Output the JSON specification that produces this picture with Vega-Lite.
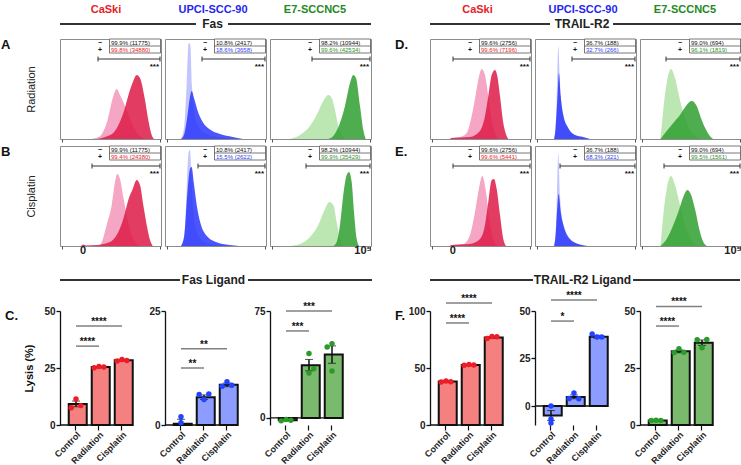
{
"$schema":"https://vega.github.io/schema/vega-lite/v6.json",
"autosize":{"type":"none"},
"padding":{"left":60,"top":2,"right":681,"bottom":463},
"background":"white",
"config":{"font":"Liberation Sans","view":{"stroke":"#8c8c8c","strokeWidth":1}},
"datasets":{
"hist":[
{"p":"FR","c":"CaSki","k":"c","x":31.7,"y":0},{"p":"FR","c":"CaSki","k":"c","x":36,"y":1},{"p":"FR","c":"CaSki","k":"c","x":40,"y":2.7},{"p":"FR","c":"CaSki","k":"c","x":46.7,"y":16},{"p":"FR","c":"CaSki","k":"c","x":53.3,"y":42.7},{"p":"FR","c":"CaSki","k":"c","x":56.7,"y":50},{"p":"FR","c":"CaSki","k":"c","x":60,"y":44},{"p":"FR","c":"CaSki","k":"c","x":66.7,"y":29},{"p":"FR","c":"CaSki","k":"c","x":73.3,"y":12.7},{"p":"FR","c":"CaSki","k":"c","x":80,"y":2.7},{"p":"FR","c":"CaSki","k":"c","x":86.7,"y":0},
{"p":"FR","c":"CaSki","k":"t","x":36.7,"y":0},{"p":"FR","c":"CaSki","k":"t","x":45,"y":2},{"p":"FR","c":"CaSki","k":"t","x":53.3,"y":6},{"p":"FR","c":"CaSki","k":"t","x":63.3,"y":26},{"p":"FR","c":"CaSki","k":"t","x":70,"y":49},{"p":"FR","c":"CaSki","k":"t","x":73.3,"y":58},{"p":"FR","c":"CaSki","k":"t","x":76.7,"y":64},{"p":"FR","c":"CaSki","k":"t","x":80,"y":61},{"p":"FR","c":"CaSki","k":"t","x":85,"y":39},{"p":"FR","c":"CaSki","k":"t","x":88.3,"y":19},{"p":"FR","c":"CaSki","k":"t","x":91.7,"y":4},{"p":"FR","c":"CaSki","k":"t","x":94,"y":0},
{"p":"FR","c":"UPCI","k":"c","x":16,"y":0},{"p":"FR","c":"UPCI","k":"c","x":19.3,"y":13},{"p":"FR","c":"UPCI","k":"c","x":21.7,"y":56},{"p":"FR","c":"UPCI","k":"c","x":23.7,"y":96},{"p":"FR","c":"UPCI","k":"c","x":25.3,"y":94},{"p":"FR","c":"UPCI","k":"c","x":27,"y":53},{"p":"FR","c":"UPCI","k":"c","x":29.3,"y":26},{"p":"FR","c":"UPCI","k":"c","x":34.3,"y":11},{"p":"FR","c":"UPCI","k":"c","x":44.3,"y":4},{"p":"FR","c":"UPCI","k":"c","x":61,"y":1},{"p":"FR","c":"UPCI","k":"c","x":67.7,"y":0},
{"p":"FR","c":"UPCI","k":"t","x":16,"y":0},{"p":"FR","c":"UPCI","k":"t","x":19.3,"y":5},{"p":"FR","c":"UPCI","k":"t","x":22.7,"y":25},{"p":"FR","c":"UPCI","k":"t","x":25,"y":42},{"p":"FR","c":"UPCI","k":"t","x":26.7,"y":48},{"p":"FR","c":"UPCI","k":"t","x":29.3,"y":40},{"p":"FR","c":"UPCI","k":"t","x":32.7,"y":28},{"p":"FR","c":"UPCI","k":"t","x":37.7,"y":17},{"p":"FR","c":"UPCI","k":"t","x":44.3,"y":10},{"p":"FR","c":"UPCI","k":"t","x":55,"y":5},{"p":"FR","c":"UPCI","k":"t","x":67.7,"y":2},{"p":"FR","c":"UPCI","k":"t","x":77.7,"y":0},
{"p":"FR","c":"E7","k":"c","x":20,"y":0},{"p":"FR","c":"E7","k":"c","x":30,"y":4},{"p":"FR","c":"E7","k":"c","x":40,"y":13},{"p":"FR","c":"E7","k":"c","x":46.7,"y":24},{"p":"FR","c":"E7","k":"c","x":53.3,"y":38},{"p":"FR","c":"E7","k":"c","x":58.3,"y":44},{"p":"FR","c":"E7","k":"c","x":61.7,"y":41},{"p":"FR","c":"E7","k":"c","x":65,"y":29},{"p":"FR","c":"E7","k":"c","x":68.3,"y":13},{"p":"FR","c":"E7","k":"c","x":71.7,"y":4},{"p":"FR","c":"E7","k":"c","x":75,"y":0},
{"p":"FR","c":"E7","k":"t","x":58.3,"y":0},{"p":"FR","c":"E7","k":"t","x":63.3,"y":3},{"p":"FR","c":"E7","k":"t","x":70,"y":16},{"p":"FR","c":"E7","k":"t","x":75,"y":33},{"p":"FR","c":"E7","k":"t","x":80,"y":56},{"p":"FR","c":"E7","k":"t","x":83.3,"y":64},{"p":"FR","c":"E7","k":"t","x":86,"y":61},{"p":"FR","c":"E7","k":"t","x":90,"y":33},{"p":"FR","c":"E7","k":"t","x":93.3,"y":9},{"p":"FR","c":"E7","k":"t","x":95.7,"y":0},
{"p":"FC","c":"CaSki","k":"c","x":36.7,"y":0},{"p":"FC","c":"CaSki","k":"c","x":40,"y":1},{"p":"FC","c":"CaSki","k":"c","x":46.7,"y":21},{"p":"FC","c":"CaSki","k":"c","x":51.7,"y":41},{"p":"FC","c":"CaSki","k":"c","x":55,"y":64},{"p":"FC","c":"CaSki","k":"c","x":57.3,"y":72},{"p":"FC","c":"CaSki","k":"c","x":60,"y":67},{"p":"FC","c":"CaSki","k":"c","x":63.3,"y":49},{"p":"FC","c":"CaSki","k":"c","x":66.7,"y":31},{"p":"FC","c":"CaSki","k":"c","x":71.7,"y":11},{"p":"FC","c":"CaSki","k":"c","x":76.7,"y":2},{"p":"FC","c":"CaSki","k":"c","x":80,"y":0},
{"p":"FC","c":"CaSki","k":"t","x":21,"y":0},{"p":"FC","c":"CaSki","k":"t","x":23.3,"y":1.5},{"p":"FC","c":"CaSki","k":"t","x":26,"y":0.5},{"p":"FC","c":"CaSki","k":"t","x":36.7,"y":1},{"p":"FC","c":"CaSki","k":"t","x":50,"y":4},{"p":"FC","c":"CaSki","k":"t","x":56.7,"y":11},{"p":"FC","c":"CaSki","k":"t","x":63.3,"y":27},{"p":"FC","c":"CaSki","k":"t","x":68.3,"y":46},{"p":"FC","c":"CaSki","k":"t","x":72.7,"y":57},{"p":"FC","c":"CaSki","k":"t","x":76.7,"y":66},{"p":"FC","c":"CaSki","k":"t","x":80,"y":61},{"p":"FC","c":"CaSki","k":"t","x":83.3,"y":41},{"p":"FC","c":"CaSki","k":"t","x":86.7,"y":21},{"p":"FC","c":"CaSki","k":"t","x":90,"y":6},{"p":"FC","c":"CaSki","k":"t","x":92.7,"y":0},
{"p":"FC","c":"UPCI","k":"c","x":16,"y":0},{"p":"FC","c":"UPCI","k":"c","x":19.3,"y":7},{"p":"FC","c":"UPCI","k":"c","x":21.7,"y":57},{"p":"FC","c":"UPCI","k":"c","x":23.7,"y":94},{"p":"FC","c":"UPCI","k":"c","x":25,"y":96},{"p":"FC","c":"UPCI","k":"c","x":27,"y":57},{"p":"FC","c":"UPCI","k":"c","x":29.3,"y":24},{"p":"FC","c":"UPCI","k":"c","x":34.3,"y":9},{"p":"FC","c":"UPCI","k":"c","x":44.3,"y":2},{"p":"FC","c":"UPCI","k":"c","x":61,"y":0.5},{"p":"FC","c":"UPCI","k":"c","x":68,"y":0},
{"p":"FC","c":"UPCI","k":"t","x":16,"y":0},{"p":"FC","c":"UPCI","k":"t","x":19.3,"y":11},{"p":"FC","c":"UPCI","k":"t","x":22.7,"y":57},{"p":"FC","c":"UPCI","k":"t","x":25,"y":77},{"p":"FC","c":"UPCI","k":"t","x":26.7,"y":79},{"p":"FC","c":"UPCI","k":"t","x":28.7,"y":64},{"p":"FC","c":"UPCI","k":"t","x":31.7,"y":41},{"p":"FC","c":"UPCI","k":"t","x":36,"y":21},{"p":"FC","c":"UPCI","k":"t","x":41,"y":11},{"p":"FC","c":"UPCI","k":"t","x":51,"y":4},{"p":"FC","c":"UPCI","k":"t","x":64.3,"y":1},{"p":"FC","c":"UPCI","k":"t","x":74.3,"y":0},
{"p":"FC","c":"E7","k":"c","x":20,"y":0},{"p":"FC","c":"E7","k":"c","x":30,"y":2},{"p":"FC","c":"E7","k":"c","x":40,"y":9},{"p":"FC","c":"E7","k":"c","x":48.3,"y":21},{"p":"FC","c":"E7","k":"c","x":55,"y":37},{"p":"FC","c":"E7","k":"c","x":59.3,"y":44},{"p":"FC","c":"E7","k":"c","x":63.3,"y":41},{"p":"FC","c":"E7","k":"c","x":66.7,"y":24},{"p":"FC","c":"E7","k":"c","x":70,"y":7},{"p":"FC","c":"E7","k":"c","x":73.3,"y":0},
{"p":"FC","c":"E7","k":"t","x":63.3,"y":0},{"p":"FC","c":"E7","k":"t","x":66.7,"y":4},{"p":"FC","c":"E7","k":"t","x":70,"y":21},{"p":"FC","c":"E7","k":"t","x":73.3,"y":51},{"p":"FC","c":"E7","k":"t","x":76.7,"y":71},{"p":"FC","c":"E7","k":"t","x":79,"y":74},{"p":"FC","c":"E7","k":"t","x":81.7,"y":64},{"p":"FC","c":"E7","k":"t","x":84,"y":34},{"p":"FC","c":"E7","k":"t","x":86.7,"y":7},{"p":"FC","c":"E7","k":"t","x":89.3,"y":0},
{"p":"TR","c":"CaSki","k":"c","x":20,"y":0},{"p":"TR","c":"CaSki","k":"c","x":21.7,"y":1},{"p":"TR","c":"CaSki","k":"c","x":30,"y":2},{"p":"TR","c":"CaSki","k":"c","x":36.7,"y":6},{"p":"TR","c":"CaSki","k":"c","x":41.7,"y":23},{"p":"TR","c":"CaSki","k":"c","x":46,"y":46},{"p":"TR","c":"CaSki","k":"c","x":49.3,"y":64},{"p":"TR","c":"CaSki","k":"c","x":51.7,"y":70},{"p":"TR","c":"CaSki","k":"c","x":55,"y":64},{"p":"TR","c":"CaSki","k":"c","x":58.3,"y":43},{"p":"TR","c":"CaSki","k":"c","x":61.7,"y":19},{"p":"TR","c":"CaSki","k":"c","x":65,"y":6},{"p":"TR","c":"CaSki","k":"c","x":68.3,"y":0},
{"p":"TR","c":"CaSki","k":"t","x":20,"y":0},{"p":"TR","c":"CaSki","k":"t","x":21.7,"y":1},{"p":"TR","c":"CaSki","k":"t","x":40,"y":2},{"p":"TR","c":"CaSki","k":"t","x":50,"y":8},{"p":"TR","c":"CaSki","k":"t","x":55,"y":23},{"p":"TR","c":"CaSki","k":"t","x":58.3,"y":43},{"p":"TR","c":"CaSki","k":"t","x":61.7,"y":64},{"p":"TR","c":"CaSki","k":"t","x":65,"y":69},{"p":"TR","c":"CaSki","k":"t","x":67.3,"y":63},{"p":"TR","c":"CaSki","k":"t","x":70,"y":43},{"p":"TR","c":"CaSki","k":"t","x":73.3,"y":16},{"p":"TR","c":"CaSki","k":"t","x":76.7,"y":3},{"p":"TR","c":"CaSki","k":"t","x":78.3,"y":0},
{"p":"TR","c":"UPCI","k":"c","x":19,"y":0},{"p":"TR","c":"UPCI","k":"c","x":20.5,"y":10},{"p":"TR","c":"UPCI","k":"c","x":21.7,"y":39},{"p":"TR","c":"UPCI","k":"c","x":23.3,"y":93},{"p":"TR","c":"UPCI","k":"c","x":25,"y":56},{"p":"TR","c":"UPCI","k":"c","x":27.7,"y":26},{"p":"TR","c":"UPCI","k":"c","x":33.3,"y":9},{"p":"TR","c":"UPCI","k":"c","x":41.7,"y":3},{"p":"TR","c":"UPCI","k":"c","x":51.7,"y":0.5},{"p":"TR","c":"UPCI","k":"c","x":55,"y":0},
{"p":"TR","c":"UPCI","k":"t","x":19,"y":0},{"p":"TR","c":"UPCI","k":"t","x":20.5,"y":10},{"p":"TR","c":"UPCI","k":"t","x":22.3,"y":39},{"p":"TR","c":"UPCI","k":"t","x":24,"y":66},{"p":"TR","c":"UPCI","k":"t","x":25.7,"y":43},{"p":"TR","c":"UPCI","k":"t","x":28.3,"y":24},{"p":"TR","c":"UPCI","k":"t","x":33.3,"y":11},{"p":"TR","c":"UPCI","k":"t","x":40,"y":4},{"p":"TR","c":"UPCI","k":"t","x":48.3,"y":2},{"p":"TR","c":"UPCI","k":"t","x":55,"y":0},
{"p":"TR","c":"E7","k":"c","x":20.5,"y":0},{"p":"TR","c":"E7","k":"c","x":23.3,"y":29},{"p":"TR","c":"E7","k":"c","x":26.7,"y":56},{"p":"TR","c":"E7","k":"c","x":31,"y":70},{"p":"TR","c":"E7","k":"c","x":35,"y":61},{"p":"TR","c":"E7","k":"c","x":40,"y":39},{"p":"TR","c":"E7","k":"c","x":45,"y":21},{"p":"TR","c":"E7","k":"c","x":50,"y":9},{"p":"TR","c":"E7","k":"c","x":55,"y":3},{"p":"TR","c":"E7","k":"c","x":60,"y":0},
{"p":"TR","c":"E7","k":"t","x":20.5,"y":0},{"p":"TR","c":"E7","k":"t","x":26.7,"y":8},{"p":"TR","c":"E7","k":"t","x":33.3,"y":16},{"p":"TR","c":"E7","k":"t","x":40,"y":24},{"p":"TR","c":"E7","k":"t","x":46.7,"y":34},{"p":"TR","c":"E7","k":"t","x":51.7,"y":38},{"p":"TR","c":"E7","k":"t","x":56.7,"y":33},{"p":"TR","c":"E7","k":"t","x":61.7,"y":19},{"p":"TR","c":"E7","k":"t","x":66.7,"y":8},{"p":"TR","c":"E7","k":"t","x":71.7,"y":1},{"p":"TR","c":"E7","k":"t","x":73.3,"y":0},
{"p":"TC","c":"CaSki","k":"c","x":20,"y":0},{"p":"TC","c":"CaSki","k":"c","x":21.7,"y":1},{"p":"TC","c":"CaSki","k":"c","x":33.3,"y":2},{"p":"TC","c":"CaSki","k":"c","x":40,"y":11},{"p":"TC","c":"CaSki","k":"c","x":45,"y":34},{"p":"TC","c":"CaSki","k":"c","x":48.3,"y":54},{"p":"TC","c":"CaSki","k":"c","x":52.3,"y":70},{"p":"TC","c":"CaSki","k":"c","x":56,"y":54},{"p":"TC","c":"CaSki","k":"c","x":59.3,"y":27},{"p":"TC","c":"CaSki","k":"c","x":63.3,"y":7},{"p":"TC","c":"CaSki","k":"c","x":66.7,"y":1},{"p":"TC","c":"CaSki","k":"c","x":68.3,"y":0},
{"p":"TC","c":"CaSki","k":"t","x":20,"y":0},{"p":"TC","c":"CaSki","k":"t","x":21.7,"y":1},{"p":"TC","c":"CaSki","k":"t","x":40,"y":2},{"p":"TC","c":"CaSki","k":"t","x":50,"y":7},{"p":"TC","c":"CaSki","k":"t","x":55,"y":21},{"p":"TC","c":"CaSki","k":"t","x":58.3,"y":44},{"p":"TC","c":"CaSki","k":"t","x":61.7,"y":66},{"p":"TC","c":"CaSki","k":"t","x":64,"y":67},{"p":"TC","c":"CaSki","k":"t","x":66.7,"y":57},{"p":"TC","c":"CaSki","k":"t","x":70,"y":31},{"p":"TC","c":"CaSki","k":"t","x":73.3,"y":7},{"p":"TC","c":"CaSki","k":"t","x":76,"y":0},
{"p":"TC","c":"UPCI","k":"c","x":19,"y":0},{"p":"TC","c":"UPCI","k":"c","x":20.5,"y":10},{"p":"TC","c":"UPCI","k":"c","x":21.7,"y":41},{"p":"TC","c":"UPCI","k":"c","x":23.3,"y":93},{"p":"TC","c":"UPCI","k":"c","x":25,"y":51},{"p":"TC","c":"UPCI","k":"c","x":27.7,"y":24},{"p":"TC","c":"UPCI","k":"c","x":33.3,"y":7},{"p":"TC","c":"UPCI","k":"c","x":41.7,"y":2},{"p":"TC","c":"UPCI","k":"c","x":51.7,"y":0},
{"p":"TC","c":"UPCI","k":"t","x":19,"y":0},{"p":"TC","c":"UPCI","k":"t","x":20.5,"y":10},{"p":"TC","c":"UPCI","k":"t","x":22,"y":34},{"p":"TC","c":"UPCI","k":"t","x":23.7,"y":52},{"p":"TC","c":"UPCI","k":"t","x":25.7,"y":34},{"p":"TC","c":"UPCI","k":"t","x":29,"y":19},{"p":"TC","c":"UPCI","k":"t","x":35,"y":7},{"p":"TC","c":"UPCI","k":"t","x":43.3,"y":2},{"p":"TC","c":"UPCI","k":"t","x":53.3,"y":0},
{"p":"TC","c":"E7","k":"c","x":20.5,"y":0},{"p":"TC","c":"E7","k":"c","x":23.3,"y":31},{"p":"TC","c":"E7","k":"c","x":26.7,"y":57},{"p":"TC","c":"E7","k":"c","x":31,"y":70},{"p":"TC","c":"E7","k":"c","x":35,"y":61},{"p":"TC","c":"E7","k":"c","x":40,"y":41},{"p":"TC","c":"E7","k":"c","x":45,"y":21},{"p":"TC","c":"E7","k":"c","x":50,"y":9},{"p":"TC","c":"E7","k":"c","x":55,"y":2},{"p":"TC","c":"E7","k":"c","x":60,"y":0},
{"p":"TC","c":"E7","k":"t","x":20.5,"y":0},{"p":"TC","c":"E7","k":"t","x":26.7,"y":7},{"p":"TC","c":"E7","k":"t","x":33.3,"y":21},{"p":"TC","c":"E7","k":"t","x":38.3,"y":34},{"p":"TC","c":"E7","k":"t","x":43.3,"y":49},{"p":"TC","c":"E7","k":"t","x":47.3,"y":56},{"p":"TC","c":"E7","k":"t","x":50.7,"y":52},{"p":"TC","c":"E7","k":"t","x":55,"y":37},{"p":"TC","c":"E7","k":"t","x":60,"y":14},{"p":"TC","c":"E7","k":"t","x":63.3,"y":4},{"p":"TC","c":"E7","k":"t","x":66.7,"y":0},
{"p":"FR","c":"CaSki","k":"a","ctrl":"99.9% (11775)","trt":"99.8% (34880)","gate":38},
{"p":"FR","c":"UPCI","k":"a","ctrl":"10.8% (2417)","trt":"18.6% (3658)","gate":37},
{"p":"FR","c":"E7","k":"a","ctrl":"98.2% (10944)","trt":"99.6% (42534)","gate":42},
{"p":"FC","c":"CaSki","k":"a","ctrl":"99.9% (11775)","trt":"99.4% (24380)","gate":32},
{"p":"FC","c":"UPCI","k":"a","ctrl":"10.8% (2417)","trt":"15.5% (2622)","gate":33},
{"p":"FC","c":"E7","k":"a","ctrl":"98.2% (10944)","trt":"99.9% (35429)","gate":36},
{"p":"TR","c":"CaSki","k":"a","ctrl":"99.6% (2756)","trt":"99.6% (7196)","gate":23},
{"p":"TR","c":"UPCI","k":"a","ctrl":"36.7% (188)","trt":"32.7% (266)","gate":37},
{"p":"TR","c":"E7","k":"a","ctrl":"99.0% (694)","trt":"96.1% (1819)","gate":26},
{"p":"TC","c":"CaSki","k":"a","ctrl":"99.6% (2756)","trt":"99.6% (5441)","gate":23},
{"p":"TC","c":"UPCI","k":"a","ctrl":"36.7% (188)","trt":"68.3% (321)","gate":25},
{"p":"TC","c":"E7","k":"a","ctrl":"99.0% (694)","trt":"99.5% (1561)","gate":24}
],
"lys":[
{"m":"F","c":"CaSki","k":"b","g":"Control","mean":9.2,"lo":8.0,"hi":10.5},{"m":"F","c":"CaSki","k":"b","g":"Radiation","mean":25.4,"lo":25.2,"hi":25.6},{"m":"F","c":"CaSki","k":"b","g":"Cisplatin","mean":28.4,"lo":28.2,"hi":28.6},
{"m":"F","c":"UPCI","k":"b","g":"Control","mean":0.3,"lo":-0.7,"hi":1.25},{"m":"F","c":"UPCI","k":"b","g":"Radiation","mean":6.1,"lo":5.6,"hi":6.6},{"m":"F","c":"UPCI","k":"b","g":"Cisplatin","mean":8.8,"lo":8.4,"hi":9.2},
{"m":"F","c":"E7","k":"b","g":"Control","mean":-1.6,"lo":-1.9,"hi":-1.3},{"m":"F","c":"E7","k":"b","g":"Radiation","mean":37,"lo":33,"hi":41},{"m":"F","c":"E7","k":"b","g":"Cisplatin","mean":44.5,"lo":38.3,"hi":50.5},
{"m":"T","c":"CaSki","k":"b","g":"Control","mean":38.1,"lo":37.8,"hi":38.4},{"m":"T","c":"CaSki","k":"b","g":"Radiation","mean":52.7,"lo":52.5,"hi":52.9},{"m":"T","c":"CaSki","k":"b","g":"Cisplatin","mean":76.8,"lo":76.2,"hi":77.4},
{"m":"T","c":"UPCI","k":"b","g":"Control","mean":-5.0,"lo":-7.6,"hi":-2.4},{"m":"T","c":"UPCI","k":"b","g":"Radiation","mean":4.8,"lo":3.8,"hi":5.8},{"m":"T","c":"UPCI","k":"b","g":"Cisplatin","mean":36.5,"lo":35.8,"hi":37.2},
{"m":"T","c":"E7","k":"b","g":"Control","mean":2.0,"lo":1.9,"hi":2.1},{"m":"T","c":"E7","k":"b","g":"Radiation","mean":32.3,"lo":31.7,"hi":32.9},{"m":"T","c":"E7","k":"b","g":"Cisplatin","mean":36.1,"lo":34.9,"hi":37.3},
{"m":"F","c":"CaSki","k":"p","g":"Control","r":1,"v":7.6},{"m":"F","c":"CaSki","k":"p","g":"Control","r":2,"v":11.4},{"m":"F","c":"CaSki","k":"p","g":"Control","r":3,"v":8.5},
{"m":"F","c":"CaSki","k":"p","g":"Radiation","r":1,"v":25.1},{"m":"F","c":"CaSki","k":"p","g":"Radiation","r":2,"v":25.7},{"m":"F","c":"CaSki","k":"p","g":"Radiation","r":3,"v":25.4},
{"m":"F","c":"CaSki","k":"p","g":"Cisplatin","r":1,"v":28.1},{"m":"F","c":"CaSki","k":"p","g":"Cisplatin","r":2,"v":28.7},{"m":"F","c":"CaSki","k":"p","g":"Cisplatin","r":3,"v":28.3},
{"m":"F","c":"UPCI","k":"p","g":"Control","r":2,"v":1.8},{"m":"F","c":"UPCI","k":"p","g":"Control","r":2,"v":0.5},
{"m":"F","c":"UPCI","k":"p","g":"Radiation","r":1,"v":6.7},{"m":"F","c":"UPCI","k":"p","g":"Radiation","r":2,"v":5.6},{"m":"F","c":"UPCI","k":"p","g":"Radiation","r":3,"v":6.8},
{"m":"F","c":"UPCI","k":"p","g":"Cisplatin","r":1,"v":8.5},{"m":"F","c":"UPCI","k":"p","g":"Cisplatin","r":2,"v":9.5},{"m":"F","c":"UPCI","k":"p","g":"Cisplatin","r":3,"v":8.7},
{"m":"F","c":"E7","k":"p","g":"Control","r":1,"v":-2.1},{"m":"F","c":"E7","k":"p","g":"Control","r":2,"v":-1.2},{"m":"F","c":"E7","k":"p","g":"Control","r":3,"v":-1.6},
{"m":"F","c":"E7","k":"p","g":"Radiation","r":2,"v":45.1},{"m":"F","c":"E7","k":"p","g":"Radiation","r":3,"v":34.5},{"m":"F","c":"E7","k":"p","g":"Radiation","r":2,"v":31.5},
{"m":"F","c":"E7","k":"p","g":"Cisplatin","r":2,"v":52.1},{"m":"F","c":"E7","k":"p","g":"Cisplatin","r":1,"v":49.8},{"m":"F","c":"E7","k":"p","g":"Cisplatin","r":2,"v":32.9},
{"m":"T","c":"CaSki","k":"p","g":"Control","r":1,"v":37.8},{"m":"T","c":"CaSki","k":"p","g":"Control","r":2,"v":38.5},{"m":"T","c":"CaSki","k":"p","g":"Control","r":3,"v":38.0},
{"m":"T","c":"CaSki","k":"p","g":"Radiation","r":1,"v":52.5},{"m":"T","c":"CaSki","k":"p","g":"Radiation","r":2,"v":53.0},{"m":"T","c":"CaSki","k":"p","g":"Radiation","r":3,"v":52.6},
{"m":"T","c":"CaSki","k":"p","g":"Cisplatin","r":1,"v":75.8},{"m":"T","c":"CaSki","k":"p","g":"Cisplatin","r":2,"v":77.6},{"m":"T","c":"CaSki","k":"p","g":"Cisplatin","r":3,"v":77.5},
{"m":"T","c":"UPCI","k":"p","g":"Control","r":2,"v":0},{"m":"T","c":"UPCI","k":"p","g":"Control","r":2,"v":-6.8},{"m":"T","c":"UPCI","k":"p","g":"Control","r":2,"v":-9.0},
{"m":"T","c":"UPCI","k":"p","g":"Radiation","r":2,"v":6.8},{"m":"T","c":"UPCI","k":"p","g":"Radiation","r":1,"v":3.9},{"m":"T","c":"UPCI","k":"p","g":"Radiation","r":3,"v":3.8},
{"m":"T","c":"UPCI","k":"p","g":"Cisplatin","r":1,"v":37.9},{"m":"T","c":"UPCI","k":"p","g":"Cisplatin","r":2,"v":36.3},{"m":"T","c":"UPCI","k":"p","g":"Cisplatin","r":3,"v":36.3},
{"m":"T","c":"E7","k":"p","g":"Control","r":1,"v":2.0},{"m":"T","c":"E7","k":"p","g":"Control","r":2,"v":2.1},{"m":"T","c":"E7","k":"p","g":"Control","r":3,"v":2.0},
{"m":"T","c":"E7","k":"p","g":"Radiation","r":1,"v":31.8},{"m":"T","c":"E7","k":"p","g":"Radiation","r":2,"v":33.5},{"m":"T","c":"E7","k":"p","g":"Radiation","r":3,"v":31.9},
{"m":"T","c":"E7","k":"p","g":"Cisplatin","r":1,"v":37.4},{"m":"T","c":"E7","k":"p","g":"Cisplatin","r":2,"v":33.9},{"m":"T","c":"E7","k":"p","g":"Cisplatin","r":3,"v":37.5},
{"m":"F","c":"CaSki","k":"s","g1":"Control","g2":"Cisplatin","y":43.4,"lab":"****"},{"m":"F","c":"CaSki","k":"s","g1":"Control","g2":"Radiation","y":34.6,"lab":"****"},
{"m":"F","c":"UPCI","k":"s","g1":"Control","g2":"Cisplatin","y":16.7,"lab":"**"},{"m":"F","c":"UPCI","k":"s","g1":"Control","g2":"Radiation","y":12.5,"lab":"**"},
{"m":"F","c":"E7","k":"s","g1":"Control","g2":"Cisplatin","y":75,"lab":"***"},{"m":"F","c":"E7","k":"s","g1":"Control","g2":"Radiation","y":61,"lab":"***"},
{"m":"T","c":"CaSki","k":"s","g1":"Control","g2":"Cisplatin","y":107,"lab":"****"},{"m":"T","c":"CaSki","k":"s","g1":"Control","g2":"Radiation","y":89.5,"lab":"****"},
{"m":"T","c":"UPCI","k":"s","g1":"Control","g2":"Cisplatin","y":55.8,"lab":"****"},{"m":"T","c":"UPCI","k":"s","g1":"Control","g2":"Radiation","y":44.7,"lab":"*"},
{"m":"T","c":"E7","k":"s","g1":"Control","g2":"Cisplatin","y":52,"lab":"****"},{"m":"T","c":"E7","k":"s","g1":"Control","g2":"Radiation","y":43.4,"lab":"****"}
]
},
"columns":7,"align":"each","bounds":"flush","spacing":{"row":7,"column":4},
"concat":[
{"width":101,"height":30,"view":{"stroke":null},"data":{"values":[{}]},"mark":{"type":"text","fontSize":11,"fontWeight":"bold","color":"#e41e26"},"encoding":{"x":{"datum":46,"type":"quantitative","scale":{"domain":[0,101],"nice":false},"axis":null},"y":{"datum":0.73,"type":"quantitative","scale":{"domain":[0,1],"nice":false},"axis":null},"text":{"value":"CaSki"}}},
{"width":101,"height":30,"view":{"stroke":null},"data":{"values":[{}]},
 "layer":[
  {"mark":{"type":"text","fontSize":11,"fontWeight":"bold","color":"#2626ee"},"encoding":{"x":{"datum":48,"type":"quantitative","scale":{"domain":[0,101],"nice":false},"axis":null},"y":{"datum":0.73,"type":"quantitative","scale":{"domain":[0,1],"nice":false},"axis":null},"text":{"value":"UPCI-SCC-90"}}},
  {"mark":{"type":"rule","color":"#333","strokeWidth":2},"encoding":{"x":{"datum":-105,"type":"quantitative","scale":{"domain":[0,101],"nice":false},"axis":null},"x2":{"datum":31},"y":{"datum":0.267,"type":"quantitative","scale":{"domain":[0,1],"nice":false},"axis":null}}},
  {"mark":{"type":"rule","color":"#333","strokeWidth":2},"encoding":{"x":{"datum":63,"type":"quantitative","scale":{"domain":[0,101],"nice":false},"axis":null},"x2":{"datum":206},"y":{"datum":0.267,"type":"quantitative","scale":{"domain":[0,1],"nice":false},"axis":null}}},
  {"mark":{"type":"text","fontSize":12,"fontWeight":"bold","color":"#222"},"encoding":{"x":{"datum":47.5,"type":"quantitative","scale":{"domain":[0,101],"nice":false},"axis":null},"y":{"datum":0.267,"type":"quantitative","scale":{"domain":[0,1],"nice":false},"axis":null},"text":{"value":"Fas"}}}
 ]},
{"width":101,"height":30,"view":{"stroke":null},"data":{"values":[{}]},"mark":{"type":"text","fontSize":11,"fontWeight":"bold","color":"#238a23"},"encoding":{"x":{"datum":45,"type":"quantitative","scale":{"domain":[0,101],"nice":false},"axis":null},"y":{"datum":0.73,"type":"quantitative","scale":{"domain":[0,1],"nice":false},"axis":null},"text":{"value":"E7-SCCNC5"}}},
{"width":51,"height":1,"view":{"stroke":null},"data":{"values":[]},"mark":"point"},
{"width":101,"height":30,"view":{"stroke":null},"data":{"values":[{}]},"mark":{"type":"text","fontSize":11,"fontWeight":"bold","color":"#e41e26"},"encoding":{"x":{"datum":47.5,"type":"quantitative","scale":{"domain":[0,101],"nice":false},"axis":null},"y":{"datum":0.73,"type":"quantitative","scale":{"domain":[0,1],"nice":false},"axis":null},"text":{"value":"CaSki"}}},
{"width":101,"height":30,"view":{"stroke":null},"data":{"values":[{}]},
 "layer":[
  {"mark":{"type":"text","fontSize":11,"fontWeight":"bold","color":"#2626ee"},"encoding":{"x":{"datum":48,"type":"quantitative","scale":{"domain":[0,101],"nice":false},"axis":null},"y":{"datum":0.73,"type":"quantitative","scale":{"domain":[0,1],"nice":false},"axis":null},"text":{"value":"UPCI-SCC-90"}}},
  {"mark":{"type":"rule","color":"#333","strokeWidth":2},"encoding":{"x":{"datum":-105,"type":"quantitative","scale":{"domain":[0,101],"nice":false},"axis":null},"x2":{"datum":15},"y":{"datum":0.267,"type":"quantitative","scale":{"domain":[0,1],"nice":false},"axis":null}}},
  {"mark":{"type":"rule","color":"#333","strokeWidth":2},"encoding":{"x":{"datum":78,"type":"quantitative","scale":{"domain":[0,101],"nice":false},"axis":null},"x2":{"datum":206},"y":{"datum":0.267,"type":"quantitative","scale":{"domain":[0,1],"nice":false},"axis":null}}},
  {"mark":{"type":"text","fontSize":12,"fontWeight":"bold","color":"#222"},"encoding":{"x":{"datum":47,"type":"quantitative","scale":{"domain":[0,101],"nice":false},"axis":null},"y":{"datum":0.267,"type":"quantitative","scale":{"domain":[0,1],"nice":false},"axis":null},"text":{"value":"TRAIL-R2"}}}
 ]},
{"width":101,"height":30,"view":{"stroke":null},"data":{"values":[{}]},"mark":{"type":"text","fontSize":11,"fontWeight":"bold","color":"#238a23"},"encoding":{"x":{"datum":45,"type":"quantitative","scale":{"domain":[0,101],"nice":false},"axis":null},"y":{"datum":0.73,"type":"quantitative","scale":{"domain":[0,1],"nice":false},"axis":null},"text":{"value":"E7-SCCNC5"}}},

{"width":101,"height":100,"data":{"name":"hist"},"transform":[{"filter":"datum.p==='FR'&&datum.c==='CaSki'"}],
 "title":{"text":"A","orient":"top","anchor":"start","frame":"group","baseline":"top","align":"left","dx":-59,"offset":-13,"fontSize":13,"fontWeight":"bold","color":"#111"},
 "layer":[
  {"transform":[{"filter":"datum.k==='c'"}],"mark":{"type":"area","interpolate":"monotone","color":"#f5a6c4"},"encoding":{"x":{"field":"x","type":"quantitative","scale":{"domain":[0,101],"nice":false},"axis":{"values":[2,6,10,14,18,23,27,31,35,39,45,52,56.5,59.5,62,64,65.5,67,68,69,76,80.5,83.5,86,88,89.5,91,92,93,100],"labels":false,"domain":false,"tickSize":3,"tickColor":"#555","grid":false,"title":null}},"y":{"field":"y","type":"quantitative","stack":null,"scale":{"domain":[0,100],"nice":false},"axis":{"labels":false,"ticks":false,"domain":false,"grid":false,"title":"Radiation","minExtent":0,"titlePadding":24,"titleFontSize":11,"titleFontWeight":"normal","titleColor":"#222"}}}},
  {"transform":[{"filter":"datum.k==='t'"}],"mark":{"type":"area","interpolate":"monotone","color":"#dd1a47","opacity":0.85},"encoding":{"x":{"field":"x","type":"quantitative"},"y":{"field":"y","type":"quantitative","stack":null}}},
  {"transform":[{"filter":"datum.k==='a'"}],"layer":[
   {"mark":{"type":"rect","fill":"white","stroke":"#555","strokeWidth":0.8},"encoding":{"x":{"datum":49.5},"x2":{"datum":100.5},"y":{"datum":86},"y2":{"datum":100}}},
   {"mark":{"type":"rule","color":"#555","strokeWidth":0.8},"encoding":{"x":{"datum":49.5},"x2":{"datum":100.5},"y":{"datum":93}}},
   {"mark":{"type":"text","fontSize":6,"align":"left","color":"#111"},"encoding":{"x":{"datum":51},"y":{"datum":96.5},"text":{"field":"ctrl"}}},
   {"mark":{"type":"text","fontSize":6,"align":"left","color":"#ee2222"},"encoding":{"x":{"datum":51},"y":{"datum":89.5},"text":{"field":"trt"}}},
   {"mark":{"type":"text","fontSize":7,"fontWeight":"bold","color":"#111"},"encoding":{"x":{"datum":40},"y":{"datum":96.5},"text":{"value":"−"}}},
   {"mark":{"type":"text","fontSize":7,"fontWeight":"bold","color":"#111"},"encoding":{"x":{"datum":40},"y":{"datum":89.5},"text":{"value":"+"}}},
   {"mark":{"type":"rule","color":"#333","strokeWidth":1},"encoding":{"x":{"field":"gate","type":"quantitative"},"x2":{"datum":100},"y":{"datum":80}}},
   {"mark":{"type":"rule","color":"#333","strokeWidth":1},"encoding":{"x":{"field":"gate","type":"quantitative"},"y":{"datum":77.5},"y2":{"datum":82.5}}},
   {"mark":{"type":"rule","color":"#333","strokeWidth":1},"encoding":{"x":{"datum":100},"y":{"datum":77.5},"y2":{"datum":82.5}}},
   {"mark":{"type":"text","fontSize":8,"fontWeight":"bold","align":"right","color":"#111"},"encoding":{"x":{"datum":99},"y":{"datum":72},"text":{"value":"***"}}}
  ]}
 ]},
{"width":101,"height":100,"data":{"name":"hist"},"transform":[{"filter":"datum.p==='FR'&&datum.c==='UPCI'"}],
 "layer":[
  {"transform":[{"filter":"datum.k==='c'"}],"mark":{"type":"area","interpolate":"monotone","color":"#c3c6fd"},"encoding":{"x":{"field":"x","type":"quantitative","scale":{"domain":[0,101],"nice":false},"axis":{"values":[2,6,10,14,18,23,27,31,35,39,45,52,56.5,59.5,62,64,65.5,67,68,69,76,80.5,83.5,86,88,89.5,91,92,93,100],"labels":false,"domain":false,"tickSize":3,"tickColor":"#555","grid":false,"title":null}},"y":{"field":"y","type":"quantitative","stack":null,"scale":{"domain":[0,100],"nice":false},"axis":{"labels":false,"ticks":false,"domain":false,"grid":false,"title":null}}}},
  {"transform":[{"filter":"datum.k==='t'"}],"mark":{"type":"area","interpolate":"monotone","color":"#2a37fb","opacity":0.85},"encoding":{"x":{"field":"x","type":"quantitative"},"y":{"field":"y","type":"quantitative","stack":null}}},
  {"transform":[{"filter":"datum.k==='a'"}],"layer":[
   {"mark":{"type":"rect","fill":"white","stroke":"#555","strokeWidth":0.8},"encoding":{"x":{"datum":49.5},"x2":{"datum":100.5},"y":{"datum":86},"y2":{"datum":100}}},
   {"mark":{"type":"rule","color":"#555","strokeWidth":0.8},"encoding":{"x":{"datum":49.5},"x2":{"datum":100.5},"y":{"datum":93}}},
   {"mark":{"type":"text","fontSize":6,"align":"left","color":"#111"},"encoding":{"x":{"datum":51},"y":{"datum":96.5},"text":{"field":"ctrl"}}},
   {"mark":{"type":"text","fontSize":6,"align":"left","color":"#3040ff"},"encoding":{"x":{"datum":51},"y":{"datum":89.5},"text":{"field":"trt"}}},
   {"mark":{"type":"text","fontSize":7,"fontWeight":"bold","color":"#111"},"encoding":{"x":{"datum":40},"y":{"datum":96.5},"text":{"value":"−"}}},
   {"mark":{"type":"text","fontSize":7,"fontWeight":"bold","color":"#111"},"encoding":{"x":{"datum":40},"y":{"datum":89.5},"text":{"value":"+"}}},
   {"mark":{"type":"rule","color":"#333","strokeWidth":1},"encoding":{"x":{"field":"gate","type":"quantitative"},"x2":{"datum":100},"y":{"datum":80}}},
   {"mark":{"type":"rule","color":"#333","strokeWidth":1},"encoding":{"x":{"field":"gate","type":"quantitative"},"y":{"datum":77.5},"y2":{"datum":82.5}}},
   {"mark":{"type":"rule","color":"#333","strokeWidth":1},"encoding":{"x":{"datum":100},"y":{"datum":77.5},"y2":{"datum":82.5}}},
   {"mark":{"type":"text","fontSize":8,"fontWeight":"bold","align":"right","color":"#111"},"encoding":{"x":{"datum":99},"y":{"datum":72},"text":{"value":"***"}}}
  ]}
 ]},
{"width":101,"height":100,"data":{"name":"hist"},"transform":[{"filter":"datum.p==='FR'&&datum.c==='E7'"}],
 "layer":[
  {"transform":[{"filter":"datum.k==='c'"}],"mark":{"type":"area","interpolate":"monotone","color":"#bce6b2"},"encoding":{"x":{"field":"x","type":"quantitative","scale":{"domain":[0,101],"nice":false},"axis":{"values":[2,6,10,14,18,23,27,31,35,39,45,52,56.5,59.5,62,64,65.5,67,68,69,76,80.5,83.5,86,88,89.5,91,92,93,100],"labels":false,"domain":false,"tickSize":3,"tickColor":"#555","grid":false,"title":null}},"y":{"field":"y","type":"quantitative","stack":null,"scale":{"domain":[0,100],"nice":false},"axis":{"labels":false,"ticks":false,"domain":false,"grid":false,"title":null}}}},
  {"transform":[{"filter":"datum.k==='t'"}],"mark":{"type":"area","interpolate":"monotone","color":"#2f9f2f","opacity":0.85},"encoding":{"x":{"field":"x","type":"quantitative"},"y":{"field":"y","type":"quantitative","stack":null}}},
  {"transform":[{"filter":"datum.k==='a'"}],"layer":[
   {"mark":{"type":"rect","fill":"white","stroke":"#555","strokeWidth":0.8},"encoding":{"x":{"datum":49.5},"x2":{"datum":100.5},"y":{"datum":86},"y2":{"datum":100}}},
   {"mark":{"type":"rule","color":"#555","strokeWidth":0.8},"encoding":{"x":{"datum":49.5},"x2":{"datum":100.5},"y":{"datum":93}}},
   {"mark":{"type":"text","fontSize":6,"align":"left","color":"#111"},"encoding":{"x":{"datum":51},"y":{"datum":96.5},"text":{"field":"ctrl"}}},
   {"mark":{"type":"text","fontSize":6,"align":"left","color":"#2a962a"},"encoding":{"x":{"datum":51},"y":{"datum":89.5},"text":{"field":"trt"}}},
   {"mark":{"type":"text","fontSize":7,"fontWeight":"bold","color":"#111"},"encoding":{"x":{"datum":40},"y":{"datum":96.5},"text":{"value":"−"}}},
   {"mark":{"type":"text","fontSize":7,"fontWeight":"bold","color":"#111"},"encoding":{"x":{"datum":40},"y":{"datum":89.5},"text":{"value":"+"}}},
   {"mark":{"type":"rule","color":"#333","strokeWidth":1},"encoding":{"x":{"field":"gate","type":"quantitative"},"x2":{"datum":100},"y":{"datum":80}}},
   {"mark":{"type":"rule","color":"#333","strokeWidth":1},"encoding":{"x":{"field":"gate","type":"quantitative"},"y":{"datum":77.5},"y2":{"datum":82.5}}},
   {"mark":{"type":"rule","color":"#333","strokeWidth":1},"encoding":{"x":{"datum":100},"y":{"datum":77.5},"y2":{"datum":82.5}}},
   {"mark":{"type":"text","fontSize":8,"fontWeight":"bold","align":"right","color":"#111"},"encoding":{"x":{"datum":99},"y":{"datum":72},"text":{"value":"***"}}}
  ]}
 ]},
{"width":51,"height":1,"view":{"stroke":null},"data":{"values":[]},"mark":"point"},
{"width":101,"height":100,"data":{"name":"hist"},"transform":[{"filter":"datum.p==='TR'&&datum.c==='CaSki'"}],
 "title":{"text":"D.","orient":"top","anchor":"start","frame":"group","baseline":"top","align":"left","dx":-35,"offset":-13,"fontSize":13,"fontWeight":"bold","color":"#111"},
 "layer":[
  {"transform":[{"filter":"datum.k==='c'"}],"mark":{"type":"area","interpolate":"monotone","color":"#f5a6c4"},"encoding":{"x":{"field":"x","type":"quantitative","scale":{"domain":[0,101],"nice":false},"axis":{"values":[2,6,10,14,18,23,27,31,35,39,45,52,56.5,59.5,62,64,65.5,67,68,69,76,80.5,83.5,86,88,89.5,91,92,93,100],"labels":false,"domain":false,"tickSize":3,"tickColor":"#555","grid":false,"title":null}},"y":{"field":"y","type":"quantitative","stack":null,"scale":{"domain":[0,100],"nice":false},"axis":{"labels":false,"ticks":false,"domain":false,"grid":false,"title":null}}}},
  {"transform":[{"filter":"datum.k==='t'"}],"mark":{"type":"area","interpolate":"monotone","color":"#dd1a47","opacity":0.85},"encoding":{"x":{"field":"x","type":"quantitative"},"y":{"field":"y","type":"quantitative","stack":null}}},
  {"transform":[{"filter":"datum.k==='a'"}],"layer":[
   {"mark":{"type":"rect","fill":"white","stroke":"#555","strokeWidth":0.8},"encoding":{"x":{"datum":49.5},"x2":{"datum":100.5},"y":{"datum":86},"y2":{"datum":100}}},
   {"mark":{"type":"rule","color":"#555","strokeWidth":0.8},"encoding":{"x":{"datum":49.5},"x2":{"datum":100.5},"y":{"datum":93}}},
   {"mark":{"type":"text","fontSize":6,"align":"left","color":"#111"},"encoding":{"x":{"datum":51},"y":{"datum":96.5},"text":{"field":"ctrl"}}},
   {"mark":{"type":"text","fontSize":6,"align":"left","color":"#ee2222"},"encoding":{"x":{"datum":51},"y":{"datum":89.5},"text":{"field":"trt"}}},
   {"mark":{"type":"text","fontSize":7,"fontWeight":"bold","color":"#111"},"encoding":{"x":{"datum":40},"y":{"datum":96.5},"text":{"value":"−"}}},
   {"mark":{"type":"text","fontSize":7,"fontWeight":"bold","color":"#111"},"encoding":{"x":{"datum":40},"y":{"datum":89.5},"text":{"value":"+"}}},
   {"mark":{"type":"rule","color":"#333","strokeWidth":1},"encoding":{"x":{"field":"gate","type":"quantitative"},"x2":{"datum":100},"y":{"datum":80}}},
   {"mark":{"type":"rule","color":"#333","strokeWidth":1},"encoding":{"x":{"field":"gate","type":"quantitative"},"y":{"datum":77.5},"y2":{"datum":82.5}}},
   {"mark":{"type":"rule","color":"#333","strokeWidth":1},"encoding":{"x":{"datum":100},"y":{"datum":77.5},"y2":{"datum":82.5}}},
   {"mark":{"type":"text","fontSize":8,"fontWeight":"bold","align":"right","color":"#111"},"encoding":{"x":{"datum":99},"y":{"datum":72},"text":{"value":"***"}}}
  ]}
 ]},
{"width":101,"height":100,"data":{"name":"hist"},"transform":[{"filter":"datum.p==='TR'&&datum.c==='UPCI'"}],
 "layer":[
  {"transform":[{"filter":"datum.k==='c'"}],"mark":{"type":"area","interpolate":"monotone","color":"#c3c6fd"},"encoding":{"x":{"field":"x","type":"quantitative","scale":{"domain":[0,101],"nice":false},"axis":{"values":[2,6,10,14,18,23,27,31,35,39,45,52,56.5,59.5,62,64,65.5,67,68,69,76,80.5,83.5,86,88,89.5,91,92,93,100],"labels":false,"domain":false,"tickSize":3,"tickColor":"#555","grid":false,"title":null}},"y":{"field":"y","type":"quantitative","stack":null,"scale":{"domain":[0,100],"nice":false},"axis":{"labels":false,"ticks":false,"domain":false,"grid":false,"title":null}}}},
  {"transform":[{"filter":"datum.k==='t'"}],"mark":{"type":"area","interpolate":"monotone","color":"#2a37fb","opacity":0.85},"encoding":{"x":{"field":"x","type":"quantitative"},"y":{"field":"y","type":"quantitative","stack":null}}},
  {"transform":[{"filter":"datum.k==='a'"}],"layer":[
   {"mark":{"type":"rect","fill":"white","stroke":"#555","strokeWidth":0.8},"encoding":{"x":{"datum":49.5},"x2":{"datum":100.5},"y":{"datum":86},"y2":{"datum":100}}},
   {"mark":{"type":"rule","color":"#555","strokeWidth":0.8},"encoding":{"x":{"datum":49.5},"x2":{"datum":100.5},"y":{"datum":93}}},
   {"mark":{"type":"text","fontSize":6,"align":"left","color":"#111"},"encoding":{"x":{"datum":51},"y":{"datum":96.5},"text":{"field":"ctrl"}}},
   {"mark":{"type":"text","fontSize":6,"align":"left","color":"#3040ff"},"encoding":{"x":{"datum":51},"y":{"datum":89.5},"text":{"field":"trt"}}},
   {"mark":{"type":"text","fontSize":7,"fontWeight":"bold","color":"#111"},"encoding":{"x":{"datum":40},"y":{"datum":96.5},"text":{"value":"−"}}},
   {"mark":{"type":"text","fontSize":7,"fontWeight":"bold","color":"#111"},"encoding":{"x":{"datum":40},"y":{"datum":89.5},"text":{"value":"+"}}},
   {"mark":{"type":"rule","color":"#333","strokeWidth":1},"encoding":{"x":{"field":"gate","type":"quantitative"},"x2":{"datum":100},"y":{"datum":80}}},
   {"mark":{"type":"rule","color":"#333","strokeWidth":1},"encoding":{"x":{"field":"gate","type":"quantitative"},"y":{"datum":77.5},"y2":{"datum":82.5}}},
   {"mark":{"type":"rule","color":"#333","strokeWidth":1},"encoding":{"x":{"datum":100},"y":{"datum":77.5},"y2":{"datum":82.5}}},
   {"mark":{"type":"text","fontSize":8,"fontWeight":"bold","align":"right","color":"#111"},"encoding":{"x":{"datum":99},"y":{"datum":72},"text":{"value":"***"}}}
  ]}
 ]},
{"width":101,"height":100,"data":{"name":"hist"},"transform":[{"filter":"datum.p==='TR'&&datum.c==='E7'"}],
 "layer":[
  {"transform":[{"filter":"datum.k==='c'"}],"mark":{"type":"area","interpolate":"monotone","color":"#bce6b2"},"encoding":{"x":{"field":"x","type":"quantitative","scale":{"domain":[0,101],"nice":false},"axis":{"values":[2,6,10,14,18,23,27,31,35,39,45,52,56.5,59.5,62,64,65.5,67,68,69,76,80.5,83.5,86,88,89.5,91,92,93,100],"labels":false,"domain":false,"tickSize":3,"tickColor":"#555","grid":false,"title":null}},"y":{"field":"y","type":"quantitative","stack":null,"scale":{"domain":[0,100],"nice":false},"axis":{"labels":false,"ticks":false,"domain":false,"grid":false,"title":null}}}},
  {"transform":[{"filter":"datum.k==='t'"}],"mark":{"type":"area","interpolate":"monotone","color":"#2f9f2f","opacity":0.85},"encoding":{"x":{"field":"x","type":"quantitative"},"y":{"field":"y","type":"quantitative","stack":null}}},
  {"transform":[{"filter":"datum.k==='a'"}],"layer":[
   {"mark":{"type":"rect","fill":"white","stroke":"#555","strokeWidth":0.8},"encoding":{"x":{"datum":49.5},"x2":{"datum":100.5},"y":{"datum":86},"y2":{"datum":100}}},
   {"mark":{"type":"rule","color":"#555","strokeWidth":0.8},"encoding":{"x":{"datum":49.5},"x2":{"datum":100.5},"y":{"datum":93}}},
   {"mark":{"type":"text","fontSize":6,"align":"left","color":"#111"},"encoding":{"x":{"datum":51},"y":{"datum":96.5},"text":{"field":"ctrl"}}},
   {"mark":{"type":"text","fontSize":6,"align":"left","color":"#2a962a"},"encoding":{"x":{"datum":51},"y":{"datum":89.5},"text":{"field":"trt"}}},
   {"mark":{"type":"text","fontSize":7,"fontWeight":"bold","color":"#111"},"encoding":{"x":{"datum":40},"y":{"datum":96.5},"text":{"value":"−"}}},
   {"mark":{"type":"text","fontSize":7,"fontWeight":"bold","color":"#111"},"encoding":{"x":{"datum":40},"y":{"datum":89.5},"text":{"value":"+"}}},
   {"mark":{"type":"rule","color":"#333","strokeWidth":1},"encoding":{"x":{"field":"gate","type":"quantitative"},"x2":{"datum":100},"y":{"datum":80}}},
   {"mark":{"type":"rule","color":"#333","strokeWidth":1},"encoding":{"x":{"field":"gate","type":"quantitative"},"y":{"datum":77.5},"y2":{"datum":82.5}}},
   {"mark":{"type":"rule","color":"#333","strokeWidth":1},"encoding":{"x":{"datum":100},"y":{"datum":77.5},"y2":{"datum":82.5}}},
   {"mark":{"type":"text","fontSize":8,"fontWeight":"bold","align":"right","color":"#111"},"encoding":{"x":{"datum":99},"y":{"datum":72},"text":{"value":"***"}}}
  ]}
 ]},

{"width":101,"height":100,"data":{"name":"hist"},"transform":[{"filter":"datum.p==='FC'&&datum.c==='CaSki'"}],
 "title":{"text":"B","orient":"top","anchor":"start","frame":"group","baseline":"top","align":"left","dx":-59,"offset":-13,"fontSize":13,"fontWeight":"bold","color":"#111"},
 "layer":[
  {"transform":[{"filter":"datum.k==='c'"}],"mark":{"type":"area","interpolate":"monotone","color":"#f5a6c4"},"encoding":{"x":{"field":"x","type":"quantitative","scale":{"domain":[0,101],"nice":false},"axis":{"values":[2,6,10,14,18,23,27,31,35,39,45,52,56.5,59.5,62,64,65.5,67,68,69,76,80.5,83.5,86,88,89.5,91,92,93,100],"labels":false,"domain":false,"tickSize":3,"tickColor":"#555","grid":false,"title":null}},"y":{"field":"y","type":"quantitative","stack":null,"scale":{"domain":[0,100],"nice":false},"axis":{"labels":false,"ticks":false,"domain":false,"grid":false,"title":"Cisplatin","minExtent":0,"titlePadding":24,"titleFontSize":11,"titleFontWeight":"normal","titleColor":"#222"}}}},
  {"transform":[{"filter":"datum.k==='t'"}],"mark":{"type":"area","interpolate":"monotone","color":"#dd1a47","opacity":0.85},"encoding":{"x":{"field":"x","type":"quantitative"},"y":{"field":"y","type":"quantitative","stack":null}}},
  {"transform":[{"filter":"datum.k==='a'"}],"layer":[
   {"mark":{"type":"rect","fill":"white","stroke":"#555","strokeWidth":0.8},"encoding":{"x":{"datum":49.5},"x2":{"datum":100.5},"y":{"datum":86},"y2":{"datum":100}}},
   {"mark":{"type":"rule","color":"#555","strokeWidth":0.8},"encoding":{"x":{"datum":49.5},"x2":{"datum":100.5},"y":{"datum":93}}},
   {"mark":{"type":"text","fontSize":6,"align":"left","color":"#111"},"encoding":{"x":{"datum":51},"y":{"datum":96.5},"text":{"field":"ctrl"}}},
   {"mark":{"type":"text","fontSize":6,"align":"left","color":"#ee2222"},"encoding":{"x":{"datum":51},"y":{"datum":89.5},"text":{"field":"trt"}}},
   {"mark":{"type":"text","fontSize":7,"fontWeight":"bold","color":"#111"},"encoding":{"x":{"datum":40},"y":{"datum":96.5},"text":{"value":"−"}}},
   {"mark":{"type":"text","fontSize":7,"fontWeight":"bold","color":"#111"},"encoding":{"x":{"datum":40},"y":{"datum":89.5},"text":{"value":"+"}}},
   {"mark":{"type":"rule","color":"#333","strokeWidth":1},"encoding":{"x":{"field":"gate","type":"quantitative"},"x2":{"datum":100},"y":{"datum":80}}},
   {"mark":{"type":"rule","color":"#333","strokeWidth":1},"encoding":{"x":{"field":"gate","type":"quantitative"},"y":{"datum":77.5},"y2":{"datum":82.5}}},
   {"mark":{"type":"rule","color":"#333","strokeWidth":1},"encoding":{"x":{"datum":100},"y":{"datum":77.5},"y2":{"datum":82.5}}},
   {"mark":{"type":"text","fontSize":8,"fontWeight":"bold","align":"right","color":"#111"},"encoding":{"x":{"datum":99},"y":{"datum":72},"text":{"value":"***"}}}
  ]}
 ]},
{"width":101,"height":100,"data":{"name":"hist"},"transform":[{"filter":"datum.p==='FC'&&datum.c==='UPCI'"}],
 "layer":[
  {"transform":[{"filter":"datum.k==='c'"}],"mark":{"type":"area","interpolate":"monotone","color":"#c3c6fd"},"encoding":{"x":{"field":"x","type":"quantitative","scale":{"domain":[0,101],"nice":false},"axis":{"values":[2,6,10,14,18,23,27,31,35,39,45,52,56.5,59.5,62,64,65.5,67,68,69,76,80.5,83.5,86,88,89.5,91,92,93,100],"labels":false,"domain":false,"tickSize":3,"tickColor":"#555","grid":false,"title":null}},"y":{"field":"y","type":"quantitative","stack":null,"scale":{"domain":[0,100],"nice":false},"axis":{"labels":false,"ticks":false,"domain":false,"grid":false,"title":null}}}},
  {"transform":[{"filter":"datum.k==='t'"}],"mark":{"type":"area","interpolate":"monotone","color":"#2a37fb","opacity":0.85},"encoding":{"x":{"field":"x","type":"quantitative"},"y":{"field":"y","type":"quantitative","stack":null}}},
  {"transform":[{"filter":"datum.k==='a'"}],"layer":[
   {"mark":{"type":"rect","fill":"white","stroke":"#555","strokeWidth":0.8},"encoding":{"x":{"datum":49.5},"x2":{"datum":100.5},"y":{"datum":86},"y2":{"datum":100}}},
   {"mark":{"type":"rule","color":"#555","strokeWidth":0.8},"encoding":{"x":{"datum":49.5},"x2":{"datum":100.5},"y":{"datum":93}}},
   {"mark":{"type":"text","fontSize":6,"align":"left","color":"#111"},"encoding":{"x":{"datum":51},"y":{"datum":96.5},"text":{"field":"ctrl"}}},
   {"mark":{"type":"text","fontSize":6,"align":"left","color":"#3040ff"},"encoding":{"x":{"datum":51},"y":{"datum":89.5},"text":{"field":"trt"}}},
   {"mark":{"type":"text","fontSize":7,"fontWeight":"bold","color":"#111"},"encoding":{"x":{"datum":40},"y":{"datum":96.5},"text":{"value":"−"}}},
   {"mark":{"type":"text","fontSize":7,"fontWeight":"bold","color":"#111"},"encoding":{"x":{"datum":40},"y":{"datum":89.5},"text":{"value":"+"}}},
   {"mark":{"type":"rule","color":"#333","strokeWidth":1},"encoding":{"x":{"field":"gate","type":"quantitative"},"x2":{"datum":100},"y":{"datum":80}}},
   {"mark":{"type":"rule","color":"#333","strokeWidth":1},"encoding":{"x":{"field":"gate","type":"quantitative"},"y":{"datum":77.5},"y2":{"datum":82.5}}},
   {"mark":{"type":"rule","color":"#333","strokeWidth":1},"encoding":{"x":{"datum":100},"y":{"datum":77.5},"y2":{"datum":82.5}}},
   {"mark":{"type":"text","fontSize":8,"fontWeight":"bold","align":"right","color":"#111"},"encoding":{"x":{"datum":99},"y":{"datum":72},"text":{"value":"***"}}}
  ]}
 ]},
{"width":101,"height":100,"data":{"name":"hist"},"transform":[{"filter":"datum.p==='FC'&&datum.c==='E7'"}],
 "layer":[
  {"transform":[{"filter":"datum.k==='c'"}],"mark":{"type":"area","interpolate":"monotone","color":"#bce6b2"},"encoding":{"x":{"field":"x","type":"quantitative","scale":{"domain":[0,101],"nice":false},"axis":{"values":[2,6,10,14,18,23,27,31,35,39,45,52,56.5,59.5,62,64,65.5,67,68,69,76,80.5,83.5,86,88,89.5,91,92,93,100],"labels":false,"domain":false,"tickSize":3,"tickColor":"#555","grid":false,"title":null}},"y":{"field":"y","type":"quantitative","stack":null,"scale":{"domain":[0,100],"nice":false},"axis":{"labels":false,"ticks":false,"domain":false,"grid":false,"title":null}}}},
  {"transform":[{"filter":"datum.k==='t'"}],"mark":{"type":"area","interpolate":"monotone","color":"#2f9f2f","opacity":0.85},"encoding":{"x":{"field":"x","type":"quantitative"},"y":{"field":"y","type":"quantitative","stack":null}}},
  {"transform":[{"filter":"datum.k==='a'"}],"layer":[
   {"mark":{"type":"rect","fill":"white","stroke":"#555","strokeWidth":0.8},"encoding":{"x":{"datum":49.5},"x2":{"datum":100.5},"y":{"datum":86},"y2":{"datum":100}}},
   {"mark":{"type":"rule","color":"#555","strokeWidth":0.8},"encoding":{"x":{"datum":49.5},"x2":{"datum":100.5},"y":{"datum":93}}},
   {"mark":{"type":"text","fontSize":6,"align":"left","color":"#111"},"encoding":{"x":{"datum":51},"y":{"datum":96.5},"text":{"field":"ctrl"}}},
   {"mark":{"type":"text","fontSize":6,"align":"left","color":"#2a962a"},"encoding":{"x":{"datum":51},"y":{"datum":89.5},"text":{"field":"trt"}}},
   {"mark":{"type":"text","fontSize":7,"fontWeight":"bold","color":"#111"},"encoding":{"x":{"datum":40},"y":{"datum":96.5},"text":{"value":"−"}}},
   {"mark":{"type":"text","fontSize":7,"fontWeight":"bold","color":"#111"},"encoding":{"x":{"datum":40},"y":{"datum":89.5},"text":{"value":"+"}}},
   {"mark":{"type":"rule","color":"#333","strokeWidth":1},"encoding":{"x":{"field":"gate","type":"quantitative"},"x2":{"datum":100},"y":{"datum":80}}},
   {"mark":{"type":"rule","color":"#333","strokeWidth":1},"encoding":{"x":{"field":"gate","type":"quantitative"},"y":{"datum":77.5},"y2":{"datum":82.5}}},
   {"mark":{"type":"rule","color":"#333","strokeWidth":1},"encoding":{"x":{"datum":100},"y":{"datum":77.5},"y2":{"datum":82.5}}},
   {"mark":{"type":"text","fontSize":8,"fontWeight":"bold","align":"right","color":"#111"},"encoding":{"x":{"datum":99},"y":{"datum":72},"text":{"value":"***"}}}
  ]}
 ]},
{"width":51,"height":1,"view":{"stroke":null},"data":{"values":[]},"mark":"point"},
{"width":101,"height":100,"data":{"name":"hist"},"transform":[{"filter":"datum.p==='TC'&&datum.c==='CaSki'"}],
 "title":{"text":"E.","orient":"top","anchor":"start","frame":"group","baseline":"top","align":"left","dx":-35,"offset":-13,"fontSize":13,"fontWeight":"bold","color":"#111"},
 "layer":[
  {"transform":[{"filter":"datum.k==='c'"}],"mark":{"type":"area","interpolate":"monotone","color":"#f5a6c4"},"encoding":{"x":{"field":"x","type":"quantitative","scale":{"domain":[0,101],"nice":false},"axis":{"values":[2,6,10,14,18,23,27,31,35,39,45,52,56.5,59.5,62,64,65.5,67,68,69,76,80.5,83.5,86,88,89.5,91,92,93,100],"labels":false,"domain":false,"tickSize":3,"tickColor":"#555","grid":false,"title":null}},"y":{"field":"y","type":"quantitative","stack":null,"scale":{"domain":[0,100],"nice":false},"axis":{"labels":false,"ticks":false,"domain":false,"grid":false,"title":null}}}},
  {"transform":[{"filter":"datum.k==='t'"}],"mark":{"type":"area","interpolate":"monotone","color":"#dd1a47","opacity":0.85},"encoding":{"x":{"field":"x","type":"quantitative"},"y":{"field":"y","type":"quantitative","stack":null}}},
  {"transform":[{"filter":"datum.k==='a'"}],"layer":[
   {"mark":{"type":"rect","fill":"white","stroke":"#555","strokeWidth":0.8},"encoding":{"x":{"datum":49.5},"x2":{"datum":100.5},"y":{"datum":86},"y2":{"datum":100}}},
   {"mark":{"type":"rule","color":"#555","strokeWidth":0.8},"encoding":{"x":{"datum":49.5},"x2":{"datum":100.5},"y":{"datum":93}}},
   {"mark":{"type":"text","fontSize":6,"align":"left","color":"#111"},"encoding":{"x":{"datum":51},"y":{"datum":96.5},"text":{"field":"ctrl"}}},
   {"mark":{"type":"text","fontSize":6,"align":"left","color":"#ee2222"},"encoding":{"x":{"datum":51},"y":{"datum":89.5},"text":{"field":"trt"}}},
   {"mark":{"type":"text","fontSize":7,"fontWeight":"bold","color":"#111"},"encoding":{"x":{"datum":40},"y":{"datum":96.5},"text":{"value":"−"}}},
   {"mark":{"type":"text","fontSize":7,"fontWeight":"bold","color":"#111"},"encoding":{"x":{"datum":40},"y":{"datum":89.5},"text":{"value":"+"}}},
   {"mark":{"type":"rule","color":"#333","strokeWidth":1},"encoding":{"x":{"field":"gate","type":"quantitative"},"x2":{"datum":100},"y":{"datum":80}}},
   {"mark":{"type":"rule","color":"#333","strokeWidth":1},"encoding":{"x":{"field":"gate","type":"quantitative"},"y":{"datum":77.5},"y2":{"datum":82.5}}},
   {"mark":{"type":"rule","color":"#333","strokeWidth":1},"encoding":{"x":{"datum":100},"y":{"datum":77.5},"y2":{"datum":82.5}}},
   {"mark":{"type":"text","fontSize":8,"fontWeight":"bold","align":"right","color":"#111"},"encoding":{"x":{"datum":99},"y":{"datum":72},"text":{"value":"***"}}}
  ]}
 ]},
{"width":101,"height":100,"data":{"name":"hist"},"transform":[{"filter":"datum.p==='TC'&&datum.c==='UPCI'"}],
 "layer":[
  {"transform":[{"filter":"datum.k==='c'"}],"mark":{"type":"area","interpolate":"monotone","color":"#c3c6fd"},"encoding":{"x":{"field":"x","type":"quantitative","scale":{"domain":[0,101],"nice":false},"axis":{"values":[2,6,10,14,18,23,27,31,35,39,45,52,56.5,59.5,62,64,65.5,67,68,69,76,80.5,83.5,86,88,89.5,91,92,93,100],"labels":false,"domain":false,"tickSize":3,"tickColor":"#555","grid":false,"title":null}},"y":{"field":"y","type":"quantitative","stack":null,"scale":{"domain":[0,100],"nice":false},"axis":{"labels":false,"ticks":false,"domain":false,"grid":false,"title":null}}}},
  {"transform":[{"filter":"datum.k==='t'"}],"mark":{"type":"area","interpolate":"monotone","color":"#2a37fb","opacity":0.85},"encoding":{"x":{"field":"x","type":"quantitative"},"y":{"field":"y","type":"quantitative","stack":null}}},
  {"transform":[{"filter":"datum.k==='a'"}],"layer":[
   {"mark":{"type":"rect","fill":"white","stroke":"#555","strokeWidth":0.8},"encoding":{"x":{"datum":49.5},"x2":{"datum":100.5},"y":{"datum":86},"y2":{"datum":100}}},
   {"mark":{"type":"rule","color":"#555","strokeWidth":0.8},"encoding":{"x":{"datum":49.5},"x2":{"datum":100.5},"y":{"datum":93}}},
   {"mark":{"type":"text","fontSize":6,"align":"left","color":"#111"},"encoding":{"x":{"datum":51},"y":{"datum":96.5},"text":{"field":"ctrl"}}},
   {"mark":{"type":"text","fontSize":6,"align":"left","color":"#3040ff"},"encoding":{"x":{"datum":51},"y":{"datum":89.5},"text":{"field":"trt"}}},
   {"mark":{"type":"text","fontSize":7,"fontWeight":"bold","color":"#111"},"encoding":{"x":{"datum":40},"y":{"datum":96.5},"text":{"value":"−"}}},
   {"mark":{"type":"text","fontSize":7,"fontWeight":"bold","color":"#111"},"encoding":{"x":{"datum":40},"y":{"datum":89.5},"text":{"value":"+"}}},
   {"mark":{"type":"rule","color":"#333","strokeWidth":1},"encoding":{"x":{"field":"gate","type":"quantitative"},"x2":{"datum":100},"y":{"datum":80}}},
   {"mark":{"type":"rule","color":"#333","strokeWidth":1},"encoding":{"x":{"field":"gate","type":"quantitative"},"y":{"datum":77.5},"y2":{"datum":82.5}}},
   {"mark":{"type":"rule","color":"#333","strokeWidth":1},"encoding":{"x":{"datum":100},"y":{"datum":77.5},"y2":{"datum":82.5}}},
   {"mark":{"type":"text","fontSize":8,"fontWeight":"bold","align":"right","color":"#111"},"encoding":{"x":{"datum":99},"y":{"datum":72},"text":{"value":"***"}}}
  ]}
 ]},
{"width":101,"height":100,"data":{"name":"hist"},"transform":[{"filter":"datum.p==='TC'&&datum.c==='E7'"}],
 "layer":[
  {"transform":[{"filter":"datum.k==='c'"}],"mark":{"type":"area","interpolate":"monotone","color":"#bce6b2"},"encoding":{"x":{"field":"x","type":"quantitative","scale":{"domain":[0,101],"nice":false},"axis":{"values":[2,6,10,14,18,23,27,31,35,39,45,52,56.5,59.5,62,64,65.5,67,68,69,76,80.5,83.5,86,88,89.5,91,92,93,100],"labels":false,"domain":false,"tickSize":3,"tickColor":"#555","grid":false,"title":null}},"y":{"field":"y","type":"quantitative","stack":null,"scale":{"domain":[0,100],"nice":false},"axis":{"labels":false,"ticks":false,"domain":false,"grid":false,"title":null}}}},
  {"transform":[{"filter":"datum.k==='t'"}],"mark":{"type":"area","interpolate":"monotone","color":"#2f9f2f","opacity":0.85},"encoding":{"x":{"field":"x","type":"quantitative"},"y":{"field":"y","type":"quantitative","stack":null}}},
  {"transform":[{"filter":"datum.k==='a'"}],"layer":[
   {"mark":{"type":"rect","fill":"white","stroke":"#555","strokeWidth":0.8},"encoding":{"x":{"datum":49.5},"x2":{"datum":100.5},"y":{"datum":86},"y2":{"datum":100}}},
   {"mark":{"type":"rule","color":"#555","strokeWidth":0.8},"encoding":{"x":{"datum":49.5},"x2":{"datum":100.5},"y":{"datum":93}}},
   {"mark":{"type":"text","fontSize":6,"align":"left","color":"#111"},"encoding":{"x":{"datum":51},"y":{"datum":96.5},"text":{"field":"ctrl"}}},
   {"mark":{"type":"text","fontSize":6,"align":"left","color":"#2a962a"},"encoding":{"x":{"datum":51},"y":{"datum":89.5},"text":{"field":"trt"}}},
   {"mark":{"type":"text","fontSize":7,"fontWeight":"bold","color":"#111"},"encoding":{"x":{"datum":40},"y":{"datum":96.5},"text":{"value":"−"}}},
   {"mark":{"type":"text","fontSize":7,"fontWeight":"bold","color":"#111"},"encoding":{"x":{"datum":40},"y":{"datum":89.5},"text":{"value":"+"}}},
   {"mark":{"type":"rule","color":"#333","strokeWidth":1},"encoding":{"x":{"field":"gate","type":"quantitative"},"x2":{"datum":100},"y":{"datum":80}}},
   {"mark":{"type":"rule","color":"#333","strokeWidth":1},"encoding":{"x":{"field":"gate","type":"quantitative"},"y":{"datum":77.5},"y2":{"datum":82.5}}},
   {"mark":{"type":"rule","color":"#333","strokeWidth":1},"encoding":{"x":{"datum":100},"y":{"datum":77.5},"y2":{"datum":82.5}}},
   {"mark":{"type":"text","fontSize":8,"fontWeight":"bold","align":"right","color":"#111"},"encoding":{"x":{"datum":99},"y":{"datum":72},"text":{"value":"***"}}}
  ]}
 ]},

{"width":101,"height":51,"view":{"stroke":null},"data":{"values":[{}]},"mark":{"type":"text","fontSize":11,"fontWeight":"bold","color":"#222"},"encoding":{"x":{"datum":23,"type":"quantitative","scale":{"domain":[0,101],"nice":false},"axis":null},"y":{"datum":1.03,"type":"quantitative","scale":{"domain":[0,1],"nice":false},"axis":null},"text":{"value":"0"}}},
{"width":101,"height":51,"view":{"stroke":null},"data":{"values":[{}]},
 "layer":[
  {"mark":{"type":"rule","color":"#333","strokeWidth":2},"encoding":{"x":{"datum":-105,"type":"quantitative","scale":{"domain":[0,101],"nice":false},"axis":null},"x2":{"datum":15},"y":{"datum":0.47,"type":"quantitative","scale":{"domain":[0,1],"nice":false},"axis":null}}},
  {"mark":{"type":"rule","color":"#333","strokeWidth":2},"encoding":{"x":{"datum":83,"type":"quantitative","scale":{"domain":[0,101],"nice":false},"axis":null},"x2":{"datum":207},"y":{"datum":0.47,"type":"quantitative","scale":{"domain":[0,1],"nice":false},"axis":null}}},
  {"mark":{"type":"text","fontSize":12,"fontWeight":"bold","color":"#222"},"encoding":{"x":{"datum":48.5,"type":"quantitative","scale":{"domain":[0,101],"nice":false},"axis":null},"y":{"datum":0.47,"type":"quantitative","scale":{"domain":[0,1],"nice":false},"axis":null},"text":{"value":"Fas Ligand"}}}
 ]},
{"width":101,"height":51,"view":{"stroke":null},"data":{"values":[{}]},"mark":{"type":"text","fontSize":11,"fontWeight":"bold","color":"#222"},"encoding":{"x":{"datum":93,"type":"quantitative","scale":{"domain":[0,101],"nice":false},"axis":null},"y":{"datum":1.03,"type":"quantitative","scale":{"domain":[0,1],"nice":false},"axis":null},"text":{"value":"10⁵"}}},
{"width":51,"height":1,"view":{"stroke":null},"data":{"values":[]},"mark":"point"},
{"width":101,"height":51,"view":{"stroke":null},"data":{"values":[{}]},"mark":{"type":"text","fontSize":11,"fontWeight":"bold","color":"#222"},"encoding":{"x":{"datum":22.7,"type":"quantitative","scale":{"domain":[0,101],"nice":false},"axis":null},"y":{"datum":1.03,"type":"quantitative","scale":{"domain":[0,1],"nice":false},"axis":null},"text":{"value":"0"}}},
{"width":101,"height":51,"view":{"stroke":null},"data":{"values":[{}]},
 "layer":[
  {"mark":{"type":"rule","color":"#333","strokeWidth":2},"encoding":{"x":{"datum":-105,"type":"quantitative","scale":{"domain":[0,101],"nice":false},"axis":null},"x2":{"datum":-2},"y":{"datum":0.47,"type":"quantitative","scale":{"domain":[0,1],"nice":false},"axis":null}}},
  {"mark":{"type":"rule","color":"#333","strokeWidth":2},"encoding":{"x":{"datum":98,"type":"quantitative","scale":{"domain":[0,101],"nice":false},"axis":null},"x2":{"datum":205},"y":{"datum":0.47,"type":"quantitative","scale":{"domain":[0,1],"nice":false},"axis":null}}},
  {"mark":{"type":"text","fontSize":12,"fontWeight":"bold","color":"#222"},"encoding":{"x":{"datum":47.5,"type":"quantitative","scale":{"domain":[0,101],"nice":false},"axis":null},"y":{"datum":0.47,"type":"quantitative","scale":{"domain":[0,1],"nice":false},"axis":null},"text":{"value":"TRAIL-R2 Ligand"}}}
 ]},
{"width":101,"height":51,"view":{"stroke":null},"data":{"values":[{}]},"mark":{"type":"text","fontSize":11,"fontWeight":"bold","color":"#222"},"encoding":{"x":{"datum":93,"type":"quantitative","scale":{"domain":[0,101],"nice":false},"axis":null},"y":{"datum":1.03,"type":"quantitative","scale":{"domain":[0,1],"nice":false},"axis":null},"text":{"value":"10⁵"}}},

{"width":72,"height":114,"view":{"stroke":null},
 "title":{"text":"C.","orient":"top","anchor":"start","frame":"group","baseline":"top","align":"left","dx":-55,"offset":-17,"fontSize":13,"fontWeight":"bold","color":"#111"},
 "data":{"name":"lys"},"transform":[{"filter":"datum.m==='F'&&datum.c==='CaSki'"}],
 "layer":[
  {"transform":[{"filter":"datum.k==='b'"}],"mark":{"type":"bar","stroke":"#111","strokeWidth":2,"fill":"#f58080"},
   "encoding":{"x":{"field":"g","type":"nominal","title":null,"scale":{"type":"band","domain":["Control","Radiation","Cisplatin"],"paddingInner":0.37,"paddingOuter":0.25,"align":0.76},"axis":{"labelAngle":-45,"labelFontSize":9,"labelFontWeight":"bold","labelColor":"#222","domain":false,"tickSize":5,"tickColor":"#111","tickWidth":1.2,"labelPadding":0}},
    "y":{"field":"mean","type":"quantitative","title":"Lysis (%)","scale":{"domain":[0,50],"nice":false},"axis":{"values":[0,25,50],"grid":false,"domainColor":"#111","domainWidth":1.3,"tickSize":4,"tickColor":"#111","tickWidth":1.3,"labelFontSize":10,"labelFontWeight":"bold","labelColor":"#222","labelPadding":1,"minExtent":0,"titleFontSize":11,"titleFontWeight":"bold","titleColor":"#111","titlePadding":9}}}},
  {"transform":[{"filter":"datum.k==='b'&&datum.g==='Control'"}],"mark":{"type":"rule","color":"#111","strokeWidth":1.3},"encoding":{"y":{"datum":0,"type":"quantitative","title":"Lysis (%)"}}},
  {"transform":[{"filter":"datum.k==='b'"}],"mark":{"type":"errorbar","ticks":{"size":8},"rule":{"strokeWidth":1.5},"color":"#111"},
   "encoding":{"x":{"field":"g","type":"nominal","title":null},"y":{"field":"lo","type":"quantitative","title":"Lysis (%)"},"y2":{"field":"hi"}}},
  {"transform":[{"filter":"datum.k==='p'"}],"mark":{"type":"point","filled":true,"size":30,"opacity":1,"color":"#ee1c24"},
   "encoding":{"x":{"field":"g","type":"nominal","title":null},"xOffset":{"field":"r","type":"nominal"},"y":{"field":"v","type":"quantitative","title":"Lysis (%)"}}},
  {"transform":[{"filter":"datum.k==='s'"}],"mark":{"type":"rule","color":"#808080","strokeWidth":1.5},
   "encoding":{"x":{"field":"g1","type":"nominal","title":null},"x2":{"field":"g2"},"y":{"field":"y","type":"quantitative","title":"Lysis (%)"}}},
  {"transform":[{"filter":"datum.k==='s'&&datum.g2==='Cisplatin'"}],"mark":{"type":"text","fontSize":10,"fontWeight":"bold","baseline":"alphabetic","dy":-1,"color":"#111"},
   "encoding":{"x":{"field":"g1","type":"nominal","title":null,"bandPosition":2.086},"y":{"field":"y","type":"quantitative","title":"Lysis (%)"},"text":{"field":"lab"}}},
  {"transform":[{"filter":"datum.k==='s'&&datum.g2==='Radiation'"}],"mark":{"type":"text","fontSize":10,"fontWeight":"bold","baseline":"alphabetic","dy":-1,"color":"#111"},
   "encoding":{"x":{"field":"g1","type":"nominal","title":null,"bandPosition":1.293},"y":{"field":"y","type":"quantitative","title":"Lysis (%)"},"text":{"field":"lab"}}}
 ]},
{"width":72,"height":114,"view":{"stroke":null},
 "data":{"name":"lys"},"transform":[{"filter":"datum.m==='F'&&datum.c==='UPCI'"}],
 "layer":[
  {"transform":[{"filter":"datum.k==='b'"}],"mark":{"type":"bar","stroke":"#111","strokeWidth":2,"fill":"#8c9cff"},
   "encoding":{"x":{"field":"g","type":"nominal","title":null,"scale":{"type":"band","domain":["Control","Radiation","Cisplatin"],"paddingInner":0.37,"paddingOuter":0.25,"align":0.76},"axis":{"labelAngle":-45,"labelFontSize":9,"labelFontWeight":"bold","labelColor":"#222","domain":false,"tickSize":5,"tickColor":"#111","tickWidth":1.2,"labelPadding":0}},
    "y":{"field":"mean","type":"quantitative","title":null,"scale":{"domain":[0,25],"nice":false},"axis":{"values":[0,25],"grid":false,"domainColor":"#111","domainWidth":1.3,"tickSize":4,"tickColor":"#111","tickWidth":1.3,"labelFontSize":10,"labelFontWeight":"bold","labelColor":"#222","labelPadding":1,"minExtent":0}}}},
  {"transform":[{"filter":"datum.k==='b'&&datum.g==='Control'"}],"mark":{"type":"rule","color":"#111","strokeWidth":1.3},"encoding":{"y":{"datum":0,"type":"quantitative","title":null}}},
  {"transform":[{"filter":"datum.k==='b'"}],"mark":{"type":"errorbar","ticks":{"size":8},"rule":{"strokeWidth":1.5},"color":"#111","clip":true},
   "encoding":{"x":{"field":"g","type":"nominal","title":null},"y":{"field":"lo","type":"quantitative","title":null},"y2":{"field":"hi"}}},
  {"transform":[{"filter":"datum.k==='p'"}],"mark":{"type":"point","filled":true,"size":30,"opacity":1,"color":"#2244ff"},
   "encoding":{"x":{"field":"g","type":"nominal","title":null},"xOffset":{"field":"r","type":"nominal"},"y":{"field":"v","type":"quantitative","title":null}}},
  {"transform":[{"filter":"datum.k==='s'"}],"mark":{"type":"rule","color":"#808080","strokeWidth":1.5},
   "encoding":{"x":{"field":"g1","type":"nominal","title":null},"x2":{"field":"g2"},"y":{"field":"y","type":"quantitative","title":null}}},
  {"transform":[{"filter":"datum.k==='s'&&datum.g2==='Cisplatin'"}],"mark":{"type":"text","fontSize":10,"fontWeight":"bold","baseline":"alphabetic","dy":-1,"color":"#111"},
   "encoding":{"x":{"field":"g1","type":"nominal","title":null,"bandPosition":2.086},"y":{"field":"y","type":"quantitative","title":null},"text":{"field":"lab"}}},
  {"transform":[{"filter":"datum.k==='s'&&datum.g2==='Radiation'"}],"mark":{"type":"text","fontSize":10,"fontWeight":"bold","baseline":"alphabetic","dy":-1,"color":"#111"},
   "encoding":{"x":{"field":"g1","type":"nominal","title":null,"bandPosition":1.293},"y":{"field":"y","type":"quantitative","title":null},"text":{"field":"lab"}}}
 ]},
{"width":72,"height":114,"view":{"stroke":null},
 "data":{"name":"lys"},"transform":[{"filter":"datum.m==='F'&&datum.c==='E7'"}],
 "layer":[
  {"transform":[{"filter":"datum.k==='b'"}],"mark":{"type":"bar","stroke":"#111","strokeWidth":2,"fill":"#7aba6c"},
   "encoding":{"x":{"field":"g","type":"nominal","title":null,"scale":{"type":"band","domain":["Control","Radiation","Cisplatin"],"paddingInner":0.37,"paddingOuter":0.25,"align":0.76},"axis":{"labelAngle":-45,"labelFontSize":9,"labelFontWeight":"bold","labelColor":"#222","domain":false,"tickSize":5,"tickColor":"#111","tickWidth":1.2,"labelPadding":0}},
    "y":{"field":"mean","type":"quantitative","title":null,"scale":{"domain":[-5,75],"nice":false},"axis":{"values":[0,25,50,75],"grid":false,"domainColor":"#111","domainWidth":1.3,"tickSize":4,"tickColor":"#111","tickWidth":1.3,"labelFontSize":10,"labelFontWeight":"bold","labelColor":"#222","labelPadding":1,"minExtent":0}}}},
  {"transform":[{"filter":"datum.k==='b'&&datum.g==='Control'"}],"mark":{"type":"rule","color":"#111","strokeWidth":1.3},"encoding":{"y":{"datum":0,"type":"quantitative","title":null}}},
  {"transform":[{"filter":"datum.k==='b'"}],"mark":{"type":"errorbar","ticks":{"size":8},"rule":{"strokeWidth":1.5},"color":"#111"},
   "encoding":{"x":{"field":"g","type":"nominal","title":null},"y":{"field":"lo","type":"quantitative","title":null},"y2":{"field":"hi"}}},
  {"transform":[{"filter":"datum.k==='p'"}],"mark":{"type":"point","filled":true,"size":30,"opacity":1,"color":"#2a9a2a"},
   "encoding":{"x":{"field":"g","type":"nominal","title":null},"xOffset":{"field":"r","type":"nominal"},"y":{"field":"v","type":"quantitative","title":null}}},
  {"transform":[{"filter":"datum.k==='s'"}],"mark":{"type":"rule","color":"#808080","strokeWidth":1.5},
   "encoding":{"x":{"field":"g1","type":"nominal","title":null},"x2":{"field":"g2"},"y":{"field":"y","type":"quantitative","title":null}}},
  {"transform":[{"filter":"datum.k==='s'&&datum.g2==='Cisplatin'"}],"mark":{"type":"text","fontSize":10,"fontWeight":"bold","baseline":"alphabetic","dy":-1,"color":"#111"},
   "encoding":{"x":{"field":"g1","type":"nominal","title":null,"bandPosition":2.086},"y":{"field":"y","type":"quantitative","title":null},"text":{"field":"lab"}}},
  {"transform":[{"filter":"datum.k==='s'&&datum.g2==='Radiation'"}],"mark":{"type":"text","fontSize":10,"fontWeight":"bold","baseline":"alphabetic","dy":-1,"color":"#111"},
   "encoding":{"x":{"field":"g1","type":"nominal","title":null,"bandPosition":1.293},"y":{"field":"y","type":"quantitative","title":null},"text":{"field":"lab"}}}
 ]},
{"width":51,"height":1,"view":{"stroke":null},"data":{"values":[]},"mark":"point"},
{"width":72,"height":114,"view":{"stroke":null},
 "title":{"text":"F.","orient":"top","anchor":"start","frame":"group","baseline":"top","align":"left","dx":-35,"offset":-29,"fontSize":13,"fontWeight":"bold","color":"#111"},
 "data":{"name":"lys"},"transform":[{"filter":"datum.m==='T'&&datum.c==='CaSki'"}],
 "layer":[
  {"transform":[{"filter":"datum.k==='b'"}],"mark":{"type":"bar","stroke":"#111","strokeWidth":2,"fill":"#f58080"},
   "encoding":{"x":{"field":"g","type":"nominal","title":null,"scale":{"type":"band","domain":["Control","Radiation","Cisplatin"],"paddingInner":0.37,"paddingOuter":0.25,"align":0.76},"axis":{"labelAngle":-45,"labelFontSize":9,"labelFontWeight":"bold","labelColor":"#222","domain":false,"tickSize":5,"tickColor":"#111","tickWidth":1.2,"labelPadding":0}},
    "y":{"field":"mean","type":"quantitative","title":null,"scale":{"domain":[0,100],"nice":false},"axis":{"values":[0,25,50,75,100],"grid":false,"domainColor":"#111","domainWidth":1.3,"tickSize":4,"tickColor":"#111","tickWidth":1.3,"labelFontSize":10,"labelFontWeight":"bold","labelColor":"#222","labelPadding":1,"minExtent":0}}}},
  {"transform":[{"filter":"datum.k==='b'&&datum.g==='Control'"}],"mark":{"type":"rule","color":"#111","strokeWidth":1.3},"encoding":{"y":{"datum":0,"type":"quantitative","title":null}}},
  {"transform":[{"filter":"datum.k==='b'"}],"mark":{"type":"errorbar","ticks":{"size":8},"rule":{"strokeWidth":1.5},"color":"#111"},
   "encoding":{"x":{"field":"g","type":"nominal","title":null},"y":{"field":"lo","type":"quantitative","title":null},"y2":{"field":"hi"}}},
  {"transform":[{"filter":"datum.k==='p'"}],"mark":{"type":"point","filled":true,"size":30,"opacity":1,"color":"#ee1c24"},
   "encoding":{"x":{"field":"g","type":"nominal","title":null},"xOffset":{"field":"r","type":"nominal"},"y":{"field":"v","type":"quantitative","title":null}}},
  {"transform":[{"filter":"datum.k==='s'"}],"mark":{"type":"rule","color":"#808080","strokeWidth":1.5},
   "encoding":{"x":{"field":"g1","type":"nominal","title":null},"x2":{"field":"g2"},"y":{"field":"y","type":"quantitative","title":null}}},
  {"transform":[{"filter":"datum.k==='s'&&datum.g2==='Cisplatin'"}],"mark":{"type":"text","fontSize":10,"fontWeight":"bold","baseline":"alphabetic","dy":-1,"color":"#111"},
   "encoding":{"x":{"field":"g1","type":"nominal","title":null,"bandPosition":2.086},"y":{"field":"y","type":"quantitative","title":null},"text":{"field":"lab"}}},
  {"transform":[{"filter":"datum.k==='s'&&datum.g2==='Radiation'"}],"mark":{"type":"text","fontSize":10,"fontWeight":"bold","baseline":"alphabetic","dy":-1,"color":"#111"},
   "encoding":{"x":{"field":"g1","type":"nominal","title":null,"bandPosition":1.293},"y":{"field":"y","type":"quantitative","title":null},"text":{"field":"lab"}}}
 ]},
{"width":72,"height":114,"view":{"stroke":null},
 "data":{"name":"lys"},"transform":[{"filter":"datum.m==='T'&&datum.c==='UPCI'"}],
 "layer":[
  {"transform":[{"filter":"datum.k==='b'"}],"mark":{"type":"bar","stroke":"#111","strokeWidth":2,"fill":"#8c9cff"},
   "encoding":{"x":{"field":"g","type":"nominal","title":null,"scale":{"type":"band","domain":["Control","Radiation","Cisplatin"],"paddingInner":0.37,"paddingOuter":0.25,"align":0.76},"axis":{"labelAngle":-45,"labelFontSize":9,"labelFontWeight":"bold","labelColor":"#222","domain":false,"tickSize":5,"tickColor":"#111","tickWidth":1.2,"labelPadding":0}},
    "y":{"field":"mean","type":"quantitative","title":null,"scale":{"domain":[-10,50],"nice":false},"axis":{"values":[0,25,50],"grid":false,"domainColor":"#111","domainWidth":1.3,"tickSize":4,"tickColor":"#111","tickWidth":1.3,"labelFontSize":10,"labelFontWeight":"bold","labelColor":"#222","labelPadding":1,"minExtent":0}}}},
  {"transform":[{"filter":"datum.k==='b'&&datum.g==='Control'"}],"mark":{"type":"rule","color":"#111","strokeWidth":1.3},"encoding":{"y":{"datum":0,"type":"quantitative","title":null}}},
  {"transform":[{"filter":"datum.k==='b'"}],"mark":{"type":"errorbar","ticks":{"size":8},"rule":{"strokeWidth":1.5},"color":"#111"},
   "encoding":{"x":{"field":"g","type":"nominal","title":null},"y":{"field":"lo","type":"quantitative","title":null},"y2":{"field":"hi"}}},
  {"transform":[{"filter":"datum.k==='p'"}],"mark":{"type":"point","filled":true,"size":30,"opacity":1,"color":"#2244ff"},
   "encoding":{"x":{"field":"g","type":"nominal","title":null},"xOffset":{"field":"r","type":"nominal"},"y":{"field":"v","type":"quantitative","title":null}}},
  {"transform":[{"filter":"datum.k==='s'"}],"mark":{"type":"rule","color":"#808080","strokeWidth":1.5},
   "encoding":{"x":{"field":"g1","type":"nominal","title":null},"x2":{"field":"g2"},"y":{"field":"y","type":"quantitative","title":null}}},
  {"transform":[{"filter":"datum.k==='s'&&datum.g2==='Cisplatin'"}],"mark":{"type":"text","fontSize":10,"fontWeight":"bold","baseline":"alphabetic","dy":-1,"color":"#111"},
   "encoding":{"x":{"field":"g1","type":"nominal","title":null,"bandPosition":2.086},"y":{"field":"y","type":"quantitative","title":null},"text":{"field":"lab"}}},
  {"transform":[{"filter":"datum.k==='s'&&datum.g2==='Radiation'"}],"mark":{"type":"text","fontSize":10,"fontWeight":"bold","baseline":"alphabetic","dy":-1,"color":"#111"},
   "encoding":{"x":{"field":"g1","type":"nominal","title":null,"bandPosition":1.293},"y":{"field":"y","type":"quantitative","title":null},"text":{"field":"lab"}}}
 ]},
{"width":72,"height":114,"view":{"stroke":null},
 "data":{"name":"lys"},"transform":[{"filter":"datum.m==='T'&&datum.c==='E7'"}],
 "layer":[
  {"transform":[{"filter":"datum.k==='b'"}],"mark":{"type":"bar","stroke":"#111","strokeWidth":2,"fill":"#7aba6c"},
   "encoding":{"x":{"field":"g","type":"nominal","title":null,"scale":{"type":"band","domain":["Control","Radiation","Cisplatin"],"paddingInner":0.37,"paddingOuter":0.25,"align":0.76},"axis":{"labelAngle":-45,"labelFontSize":9,"labelFontWeight":"bold","labelColor":"#222","domain":false,"tickSize":5,"tickColor":"#111","tickWidth":1.2,"labelPadding":0}},
    "y":{"field":"mean","type":"quantitative","title":null,"scale":{"domain":[0,50],"nice":false},"axis":{"values":[0,25,50],"grid":false,"domainColor":"#111","domainWidth":1.3,"tickSize":4,"tickColor":"#111","tickWidth":1.3,"labelFontSize":10,"labelFontWeight":"bold","labelColor":"#222","labelPadding":1,"minExtent":0}}}},
  {"transform":[{"filter":"datum.k==='b'&&datum.g==='Control'"}],"mark":{"type":"rule","color":"#111","strokeWidth":1.3},"encoding":{"y":{"datum":0,"type":"quantitative","title":null}}},
  {"transform":[{"filter":"datum.k==='b'"}],"mark":{"type":"errorbar","ticks":{"size":8},"rule":{"strokeWidth":1.5},"color":"#111"},
   "encoding":{"x":{"field":"g","type":"nominal","title":null},"y":{"field":"lo","type":"quantitative","title":null},"y2":{"field":"hi"}}},
  {"transform":[{"filter":"datum.k==='p'"}],"mark":{"type":"point","filled":true,"size":30,"opacity":1,"color":"#2a9a2a"},
   "encoding":{"x":{"field":"g","type":"nominal","title":null},"xOffset":{"field":"r","type":"nominal"},"y":{"field":"v","type":"quantitative","title":null}}},
  {"transform":[{"filter":"datum.k==='s'"}],"mark":{"type":"rule","color":"#808080","strokeWidth":1.5},
   "encoding":{"x":{"field":"g1","type":"nominal","title":null},"x2":{"field":"g2"},"y":{"field":"y","type":"quantitative","title":null}}},
  {"transform":[{"filter":"datum.k==='s'&&datum.g2==='Cisplatin'"}],"mark":{"type":"text","fontSize":10,"fontWeight":"bold","baseline":"alphabetic","dy":-1,"color":"#111"},
   "encoding":{"x":{"field":"g1","type":"nominal","title":null,"bandPosition":2.086},"y":{"field":"y","type":"quantitative","title":null},"text":{"field":"lab"}}},
  {"transform":[{"filter":"datum.k==='s'&&datum.g2==='Radiation'"}],"mark":{"type":"text","fontSize":10,"fontWeight":"bold","baseline":"alphabetic","dy":-1,"color":"#111"},
   "encoding":{"x":{"field":"g1","type":"nominal","title":null,"bandPosition":1.293},"y":{"field":"y","type":"quantitative","title":null},"text":{"field":"lab"}}}
 ]}
]
}
